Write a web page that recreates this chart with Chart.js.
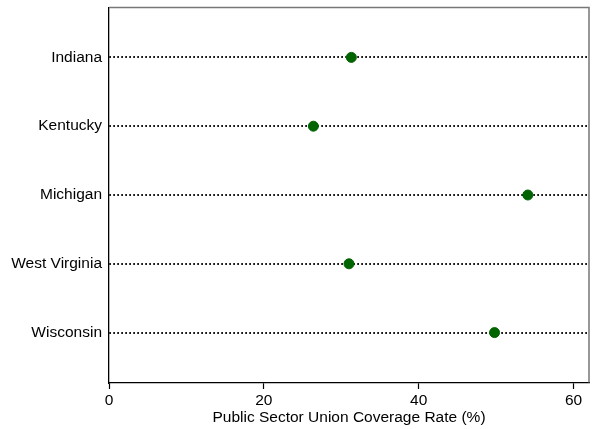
<!DOCTYPE html>
<html>
<head>
<meta charset="utf-8">
<script src="https://cdn.jsdelivr.net/npm/chart.js@4/dist/chart.umd.min.js"></script>
<style>
html, body { margin: 0; padding: 0; background: #fff; }
#wrap { width: 595px; height: 429px; }
</style>
</head>
<body>
<div id="wrap"><canvas id="dots"></canvas></div>
<script>
// states, top to bottom
const states = ['Indiana', 'Kentucky', 'Michigan', 'West Virginia', 'Wisconsin'];
// public sector union coverage rate, %
const coverage = [31.3, 26.4, 54.1, 31.0, 49.8];
const xTicks = [0, 20, 40, 60];

const font = { family: "'Liberation Sans', Arial, sans-serif", size: 15.5 };

// top and right frame lines are grey in the original
const frame = {
    id: 'frame',
    afterDraw(chart) {
        const { ctx, chartArea: a } = chart;
        ctx.save();
        ctx.strokeStyle = '#777';
        ctx.lineWidth = 1.5;
        ctx.beginPath();
        ctx.moveTo(a.left, a.top);
        ctx.lineTo(a.right, a.top);
        ctx.lineTo(a.right, a.bottom);
        ctx.stroke();
        ctx.restore();
    }
};

new Chart(document.getElementById('dots'), {
    type: 'scatter',
    data: {
        datasets: [{
            data: coverage.map((v, i) => ({ x: v, y: i + 1 })),
            backgroundColor: '#006400',
            borderColor: '#006400',
            pointRadius: 5,
            pointHoverRadius: 5
        }]
    },
    options: {
        responsive: true,
        maintainAspectRatio: false,
        animation: false,
        layout: { padding: { top: 7.5, right: 5.5, left: 0, bottom: 0 } },
        plugins: { legend: { display: false }, tooltip: { enabled: false } },
        scales: {
            x: {
                type: 'linear',
                min: 0,
                max: 62,
                afterBuildTicks: s => { s.ticks = xTicks.map(v => ({ value: v })); },
                afterFit: s => { s.height = 46.5; s.paddingLeft = 0; s.paddingRight = 0; },
                ticks: { color: '#000', font: font, padding: 2, maxRotation: 0 },
                grid: { drawOnChartArea: false, drawTicks: true, tickLength: 6.5, tickColor: '#000', tickWidth: 1.2 },
                border: { color: '#000', width: 1.3 },
                title: {
                    display: true,
                    text: 'Public Sector Union Coverage Rate (%)',
                    color: '#000',
                    font: font,
                    padding: { top: 0, bottom: 2 }
                }
            },
            y: {
                type: 'linear',
                reverse: true,
                min: 0.275,
                max: 5.725,
                afterBuildTicks: s => { s.ticks = states.map((_, i) => ({ value: i + 1 })); },
                afterFit: s => { s.width = 109; s.paddingTop = 0; s.paddingBottom = 0; },
                ticks: {
                    color: '#000',
                    font: font,
                    padding: 7,
                    callback: v => states[v - 1]
                },
                grid: { drawOnChartArea: true, drawTicks: false, color: '#000', lineWidth: 2 },
                border: { color: '#000', width: 1.3, dash: [1.6, 2.4] }
            }
        }
    },
    plugins: [frame]
});
</script>
</body>
</html>
